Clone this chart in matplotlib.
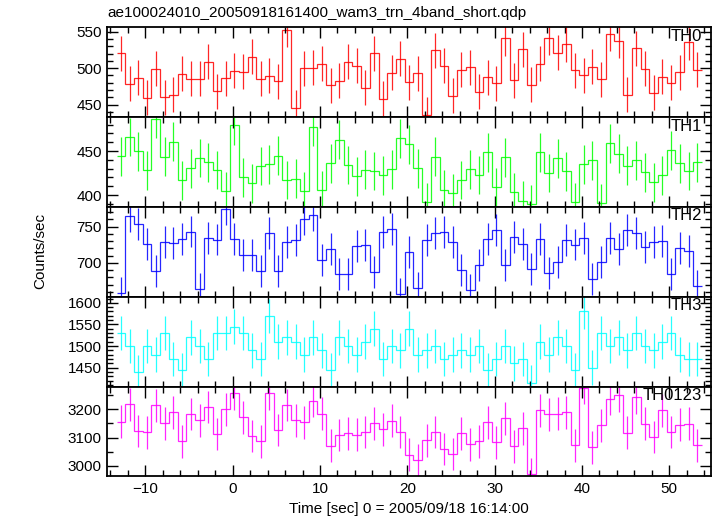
import numpy as np
import matplotlib
matplotlib.use("Agg")
import matplotlib.pyplot as plt
from matplotlib.ticker import MultipleLocator

plt.rcParams['font.family'] = ['Liberation Sans', 'DejaVu Sans']

title = "ae100024010_20050918161400_wam3_trn_4band_short.qdp"
xlabel = "Time [sec] 0 = 2005/09/18 16:14:00"
ylabel = "Counts/sec"

# bin edges of the light curve (1 s bins)
t_start = -13.3
n_bins = 67

th0 = [520.5, 478.5, 486.8, 459.1, 498.8, 460.0, 463.2, 492.3, 485.4, 485.4,
       509.0, 467.9, 485.9, 496.5, 495.1, 515.4, 485.4, 489.6, 481.7, 552.8,
       445.7, 499.7, 500.6, 506.2, 476.2, 482.6, 509.0, 503.0, 472.9, 520.5,
       457.7, 493.7, 513.1, 480.8, 492.8, 436.0, 524.2, 503.0, 461.9, 497.9,
       501.1, 467.4, 487.3, 478.9, 540.8, 483.1, 526.0, 477.1, 506.2, 541.7,
       521.0, 532.5, 497.0, 490.5, 502.0, 484.9, 546.8, 537.6, 463.7, 526.9,
       499.3, 466.5, 488.2, 479.9, 494.2, 535.7, 497.9]
th1 = [443.9, 465.9, 449.6, 428.0, 486.4, 443.6, 460.6, 416.7, 430.3, 442.0,
       437.1, 428.4, 404.5, 479.2, 420.1, 413.3, 433.0, 434.9, 444.7, 417.0,
       418.6, 404.5, 477.7, 405.3, 436.0, 462.9, 434.1, 421.2, 428.8, 427.3,
       422.4, 429.2, 464.4, 457.6, 430.3, 391.7, 443.6, 406.1, 402.3, 417.0,
       429.2, 422.7, 448.5, 408.7, 442.8, 403.0, 393.6, 389.4, 448.5, 425.0,
       441.7, 426.9, 391.7, 434.9, 439.4, 390.9, 458.7, 447.0, 433.3, 439.4,
       425.8, 414.4, 422.4, 450.8, 436.0, 427.3, 437.1]
th2 = [658.8, 765.2, 753.3, 726.2, 688.2, 728.5, 727.6, 732.6, 743.2, 664.3,
       734.5, 732.2, 774.4, 732.6, 710.6, 710.6, 688.2, 740.9, 689.1, 728.5,
       731.3, 761.1, 766.1, 703.7, 719.3, 684.9, 684.9, 723.0, 724.4, 687.2,
       742.7, 746.4, 657.0, 714.8, 664.8, 731.3, 740.9, 742.3, 728.5, 690.0,
       662.5, 697.3, 732.6, 745.0, 696.9, 735.8, 725.8, 691.4, 732.6, 686.3,
       701.0, 731.3, 725.3, 734.9, 678.1, 701.5, 734.0, 718.9, 745.0, 741.3,
       722.1, 729.4, 729.9, 684.9, 720.7, 716.1, 668.0]
th3 = [1530, 1500, 1440, 1500, 1480, 1530, 1470, 1445, 1520, 1500,
       1470, 1530, 1530, 1545, 1530, 1490, 1470, 1570, 1510, 1520,
       1510, 1480, 1520, 1490, 1445, 1520, 1500, 1480, 1510, 1540,
       1470, 1500, 1490, 1540, 1480, 1490, 1500, 1470, 1480, 1490,
       1480, 1500, 1445, 1470, 1500, 1460, 1470, 1415, 1510, 1480,
       1520, 1500, 1445, 1580, 1450, 1530, 1500, 1520, 1490, 1530,
       1500, 1490, 1510, 1530, 1480, 1470, 1470]
th0123 = [3156.3, 3217.5, 3123.4, 3118.7, 3214.0, 3150.5, 3189.3, 3086.9, 3183.4, 3161.0,
          3208.1, 3112.8, 3199.9, 3256.3, 3171.6, 3105.8, 3086.9, 3256.3, 3126.9, 3215.2,
          3161.0, 3154.0, 3229.3, 3184.6, 3071.6, 3109.3, 3115.2, 3110.0, 3120.0, 3150.0,
          3130.0, 3160.0, 3120.0, 3040.0, 3020.0, 3090.0, 3120.0, 3060.0, 3042.2, 3115.2,
          3076.3, 3086.9, 3154.0, 3083.4, 3168.1, 3069.3, 3132.8, 2970.4, 3196.3, 3182.2,
          3184.6, 3189.3, 3072.8, 3275.2, 3065.7, 3143.4, 3237.5, 3249.3, 3117.5, 3242.2,
          3149.3, 3102.2, 3196.3, 3119.9, 3145.8, 3149.3, 3072.8]

# typical 1-sigma error of each band
errs = [24, 22, 22, 40, 58]

names = ["TH0", "TH1", "TH2", "TH3", "TH0123"]
colors = ["#ff0000", "#00ff00", "#0000ff", "#00ffff", "#ff00ff"]
series = [th0, th1, th2, th3, th0123]
ylims = [(432.7, 556.0), (386.4, 488.6), (653.2, 777.1), (1406, 1614), (2963, 3280)]
ymajor = [50, 50, 50, 50, 100]
yminor = [10, 10, 10, 10, 50]

edges = t_start + np.arange(n_bins + 1)
centers = edges[:-1] + 0.5

fig, axes = plt.subplots(5, 1, sharex=True, figsize=(7.17, 5.16), dpi=100)
fig.subplots_adjust(left=0.1499, right=0.9916, top=0.9471, bottom=0.0766, hspace=0)

for ax, name, c, y, e, yl, ma, mi in zip(axes, names, colors, series, errs, ylims, ymajor, yminor):
    y = np.array(y)
    ax.stairs(y, edges, baseline=None, color=c, lw=0.9, alpha=0.85)
    ax.errorbar(centers, y, yerr=e, fmt='none', ecolor=c, elinewidth=0.9, capsize=0, alpha=0.85)
    ax.set_ylim(*yl)
    ax.yaxis.set_major_locator(MultipleLocator(ma))
    ax.yaxis.set_minor_locator(MultipleLocator(mi))
    ax.xaxis.set_major_locator(MultipleLocator(10))
    ax.xaxis.set_minor_locator(MultipleLocator(2))
    ax.tick_params(which='both', direction='in', top=True, right=True, labelsize=11, pad=4)
    ax.tick_params(which='major', length=8, width=1)
    ax.tick_params(which='minor', length=4, width=1)
    for sp in ax.spines.values():
        sp.set_linewidth(1.3)
    ax.text(0.985, 0.9, name, transform=ax.transAxes, ha='right', va='center', fontsize=12)

axes[-1].set_xlim(-14.34, 54.77)
axes[-1].set_xlabel(xlabel, fontsize=11, labelpad=4)
fig.text(0.056, 0.514, ylabel, rotation=90, ha='center', va='center', fontsize=11)
fig.text(0.1499, 0.975, title, ha='left', va='center', fontsize=11)

fig.savefig("out.png", dpi=100)
